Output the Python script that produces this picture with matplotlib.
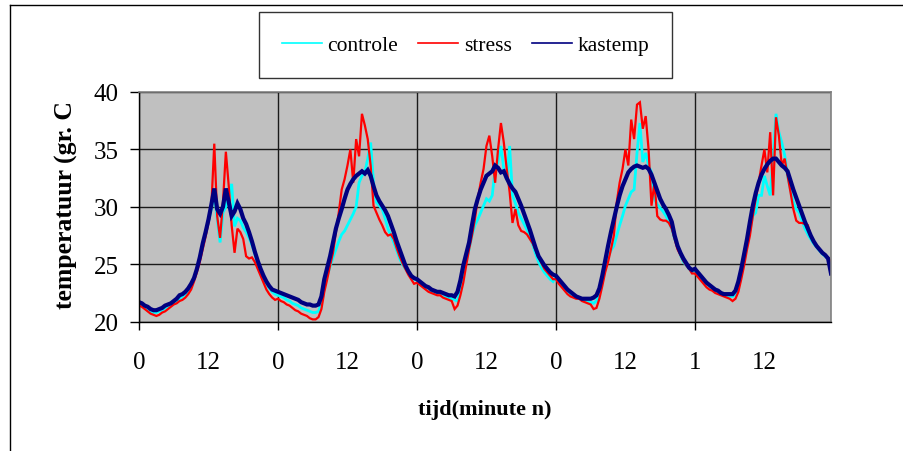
import numpy as np
import matplotlib
matplotlib.use("Agg")
import matplotlib.pyplot as plt
from matplotlib.lines import Line2D

plt.rcParams['font.family'] = ['Liberation Serif', 'DejaVu Serif']

# sampling grid: every half hour over 5 days (hours)
hours = np.arange(240) * 0.5

# temperatures (gr. C), one row per day, 48 half-hour readings each
kastemp = [
    21.7, 21.6, 21.4, 21.3, 21.1, 21.0, 21.0, 21.1, 21.2, 21.4, 21.5, 21.6, 21.8, 22.0, 22.3, 22.4,
    22.6, 22.9, 23.3, 23.8, 24.6, 25.6, 26.8, 27.8, 28.9, 30.2, 31.6, 29.8, 29.4, 30.0, 31.6, 30.4,
    29.2, 29.6, 30.3, 29.8, 29.0, 28.5, 27.8, 27.0, 26.1, 25.3, 24.6, 24.0, 23.5, 23.1, 22.8, 22.7,
    22.6, 22.5, 22.4, 22.3, 22.2, 22.1, 22.0, 21.9, 21.7, 21.6, 21.5, 21.5, 21.4, 21.4, 21.5, 22.2,
    23.7, 24.7, 25.7, 26.9, 28.1, 29.0, 29.8, 30.7, 31.5, 32.0, 32.4, 32.7, 32.9, 33.1, 32.9, 33.2,
    32.7, 31.8, 31.0, 30.5, 30.1, 29.7, 29.2, 28.5, 27.8, 27.0, 26.3, 25.6, 24.9, 24.4, 24.0, 23.8,
    23.7, 23.5, 23.3, 23.1, 23.0, 22.8, 22.7, 22.6, 22.6, 22.5, 22.4, 22.3, 22.3, 22.2, 22.6, 23.6,
    24.9, 25.9, 26.9, 28.4, 29.8, 30.7, 31.5, 32.1, 32.7, 32.9, 33.1, 33.6, 33.4, 33.0, 33.1, 32.5,
    32.0, 31.6, 31.3, 30.7, 30.1, 29.4, 28.7, 28.0, 27.2, 26.4, 25.7, 25.3, 24.9, 24.6, 24.3, 24.1,
    24.0, 23.7, 23.4, 23.1, 22.8, 22.6, 22.4, 22.2, 22.1, 22.0, 22.0, 22.0, 22.0, 22.1, 22.3, 22.9,
    24.0, 25.3, 26.6, 27.8, 28.9, 30.0, 31.0, 31.8, 32.4, 33.0, 33.3, 33.5, 33.6, 33.5, 33.4, 33.5,
    33.3, 32.8, 32.1, 31.4, 30.7, 30.2, 29.8, 29.3, 28.7, 27.5, 26.6, 26.0, 25.5, 25.1, 24.7, 24.5,
    24.6, 24.3, 24.0, 23.7, 23.4, 23.2, 23.0, 22.8, 22.7, 22.5, 22.4, 22.4, 22.4, 22.4, 22.7, 23.5,
    24.6, 25.9, 27.2, 28.7, 30.1, 31.2, 32.1, 32.8, 33.3, 33.7, 34.0, 34.2, 34.2, 33.9, 33.6, 33.4,
    33.1, 32.3, 31.5, 30.8, 30.1, 29.4, 28.7, 28.1, 27.5, 27.0, 26.6, 26.3, 26.0, 25.8, 25.5, 24.2,
]

stress = [
    21.4, 21.3, 21.1, 20.9, 20.7, 20.6, 20.5, 20.6, 20.8, 20.9, 21.1, 21.3, 21.5, 21.6, 21.8, 21.9,
    22.1, 22.4, 22.8, 23.5, 24.3, 25.2, 26.3, 27.4, 28.6, 30.1, 35.5, 29.2, 27.3, 30.4, 34.8, 31.8,
    28.4, 26.0, 28.1, 27.8, 27.2, 25.7, 25.5, 25.6, 25.2, 24.6, 24.0, 23.4, 22.8, 22.4, 22.1, 21.9,
    22.0, 21.8, 21.7, 21.5, 21.4, 21.2, 21.0, 20.9, 20.7, 20.6, 20.5, 20.3, 20.2, 20.2, 20.4, 21.1,
    22.6, 23.7, 24.9, 26.0, 27.8, 29.5, 31.5, 32.4, 33.6, 35.0, 32.1, 35.9, 34.4, 38.1, 37.1, 35.9,
    33.6, 30.1, 29.5, 28.9, 28.4, 27.8, 27.5, 27.6, 27.2, 26.4, 25.7, 25.1, 24.6, 24.1, 23.7, 23.3,
    23.4, 23.2, 23.0, 22.8, 22.6, 22.5, 22.4, 22.3, 22.3, 22.1, 22.0, 21.9, 21.8, 21.1, 21.4, 22.3,
    23.4, 24.9, 26.3, 27.5, 28.9, 30.7, 32.1, 33.3, 35.3, 36.2, 34.4, 32.1, 35.0, 37.3, 35.6, 33.3,
    31.3, 28.6, 29.8, 28.4, 27.9, 27.8, 27.6, 27.2, 26.8, 26.2, 25.6, 25.1, 24.6, 24.3, 24.0, 23.7,
    23.7, 23.3, 23.0, 22.7, 22.4, 22.2, 22.1, 22.0, 22.0, 21.8, 21.7, 21.6, 21.5, 21.1, 21.2, 22.0,
    23.1, 24.3, 25.2, 26.3, 27.5, 30.4, 32.1, 33.3, 35.0, 33.6, 37.6, 35.9, 38.9, 39.1, 36.8, 37.9,
    35.0, 30.1, 32.1, 29.2, 28.9, 28.8, 28.8, 28.6, 28.1, 27.2, 26.3, 25.8, 25.3, 24.9, 24.6, 24.2,
    24.2, 23.9, 23.6, 23.3, 23.0, 22.8, 22.7, 22.5, 22.4, 22.3, 22.2, 22.1, 22.0, 21.8, 22.0, 22.6,
    23.7, 24.9, 26.3, 27.5, 29.2, 30.7, 32.1, 33.6, 35.0, 33.0, 36.5, 31.0, 37.8, 36.2, 33.6, 34.2,
    32.7, 31.3, 29.8, 28.8, 28.6, 28.6, 28.5, 28.4, 27.5, 27.0, 26.6, 26.3, 26.0, 25.8, 25.6, 25.2,
]

controle = [
    21.6, 21.5, 21.3, 21.1, 20.9, 20.8, 20.8, 20.9, 21.0, 21.2, 21.3, 21.5, 21.7, 21.8, 22.0, 22.2,
    22.4, 22.7, 23.1, 23.7, 24.5, 25.5, 26.5, 27.6, 28.7, 29.8, 31.2, 29.0, 26.9, 29.5, 30.0, 31.0,
    32.0, 28.3, 29.0, 28.8, 28.2, 27.8, 27.3, 26.7, 25.9, 25.1, 24.5, 23.9, 23.3, 22.9, 22.6, 22.4,
    22.3, 22.2, 22.1, 21.9, 21.8, 21.6, 21.5, 21.4, 21.2, 21.1, 21.0, 20.9, 20.8, 20.8, 20.9, 21.6,
    23.0, 24.0, 24.8, 25.6, 26.3, 27.0, 27.6, 27.9, 28.4, 28.9, 29.4, 30.0, 32.1, 32.7, 33.0, 34.2,
    35.6, 32.1, 30.4, 30.1, 29.8, 29.0, 28.1, 27.5, 26.9, 26.2, 25.5, 25.0, 24.6, 24.3, 24.0, 23.7,
    23.6, 23.4, 23.2, 23.0, 22.9, 22.7, 22.6, 22.5, 22.5, 22.4, 22.2, 22.1, 22.0, 21.9, 21.8, 22.8,
    24.0, 25.2, 26.3, 27.5, 28.4, 28.9, 29.5, 30.1, 30.7, 30.5, 31.0, 33.3, 33.9, 35.3, 33.3, 32.4,
    35.3, 31.0, 30.3, 29.5, 29.0, 28.5, 28.0, 27.4, 26.7, 25.9, 25.2, 24.7, 24.3, 24.0, 23.7, 23.5,
    23.9, 23.5, 23.2, 22.9, 22.6, 22.4, 22.2, 22.1, 22.0, 21.9, 21.8, 21.7, 21.7, 21.6, 21.8, 22.5,
    23.5, 24.6, 25.6, 26.2, 26.6, 27.5, 28.4, 29.2, 30.1, 30.7, 31.3, 31.5, 34.7, 37.3, 33.9, 34.7,
    33.6, 33.0, 30.7, 30.2, 29.9, 29.6, 29.2, 28.7, 28.1, 27.2, 26.6, 25.8, 25.2, 24.9, 24.6, 24.3,
    24.5, 24.2, 23.9, 23.6, 23.3, 23.1, 22.9, 22.7, 22.6, 22.5, 22.4, 22.3, 22.2, 22.2, 22.4, 23.1,
    24.2, 25.4, 26.6, 28.0, 29.2, 29.5, 31.0, 31.0, 32.7, 31.8, 31.0, 34.2, 38.1, 36.5, 35.6, 34.5,
    32.7, 31.5, 30.4, 29.8, 29.5, 28.8, 28.1, 27.6, 27.2, 26.8, 26.5, 26.2, 25.9, 25.7, 25.5, 24.4,
]

series_names = ["controle", "stress", "kastemp"]
series_colors = ["#00FFFF", "#FF0000", "#000080"]

day_ticks = [0, 24, 48, 72, 96]
day_labels = ["0", "0", "0", "0", "1"]
half_ticks = [12, 36, 60, 84, 108]
half_labels = ["12", "12", "12", "12", "12"]
y_ticks = [20, 25, 30, 35, 40]

W, H = 904, 452
fig = plt.figure(figsize=(W / 100, H / 100), dpi=100)
ax = fig.add_axes([139 / W, 1 - 322.7 / H, (831 - 139) / W, (322.7 - 93) / H])
ax.set_facecolor("#C0C0C0")

widths = [2.0, 1.6, 3.0]
for vals, name, col, lw in zip([controle, stress, kastemp], series_names, series_colors, widths):
    ax.plot(hours, vals, color=col, lw=lw, label=name, solid_joinstyle="miter")

ax.set_xlim(0, 119.5)
ax.set_ylim(20, 40)
ax.set_yticks(y_ticks)
ax.set_xticks(day_ticks)
ax.set_xticklabels(day_labels)
ax.set_xticks(half_ticks, minor=True)
ax.set_xticklabels(half_labels, minor=True)

ax.grid(True, which="major", color="#1a1a1a", lw=1.0)
ax.set_axisbelow(True)

ax.tick_params(axis="y", which="major", direction="out", length=6.5, width=1,
               labelsize=18, pad=8)
ax.tick_params(axis="x", which="major", direction="out", length=5.8, width=1,
               labelsize=18, pad=15.5)
ax.tick_params(axis="x", which="minor", length=0, labelsize=18, pad=21.3)

for s in ["left", "bottom"]:
    ax.spines[s].set_color("black")
    ax.spines[s].set_linewidth(1.0)
for s in ["top", "right"]:
    ax.spines[s].set_color("#808080")
    ax.spines[s].set_linewidth(1.2)

fig.text(66 / W, 1 - 205 / H, "temperatuur (gr. C", rotation=90, fontsize=18.5,
         fontweight="bold", ha="center", va="center")
fig.text(484.5 / W, 1 - 410 / H, "tijd(minute n)", fontsize=16, fontweight="bold",
         ha="center", va="center")

leg = fig.legend(loc="center", bbox_to_anchor=(465.5 / W, 1 - 46 / H), ncol=3,
                 fontsize=15.5, frameon=True, fancybox=False, shadow=False,
                 handlelength=1.85, handletextpad=0.25, columnspacing=0.95,
                 borderpad=1.05, borderaxespad=0)
leg.get_frame().set_edgecolor("black")
leg.get_frame().set_linewidth(1.0)
for h in leg.get_lines():
    h.set_linewidth(1.2)

# outer chart frame (partially clipped in the reference)
fig.add_artist(Line2D([10 / W, 10 / W], [1 - 6 / H, 0], transform=fig.transFigure,
                      color="black", lw=1.0))
fig.add_artist(Line2D([10 / W, 1], [1 - 6 / H, 1 - 6 / H], transform=fig.transFigure,
                      color="black", lw=1.0))

fig.savefig("out.png", dpi=100)
